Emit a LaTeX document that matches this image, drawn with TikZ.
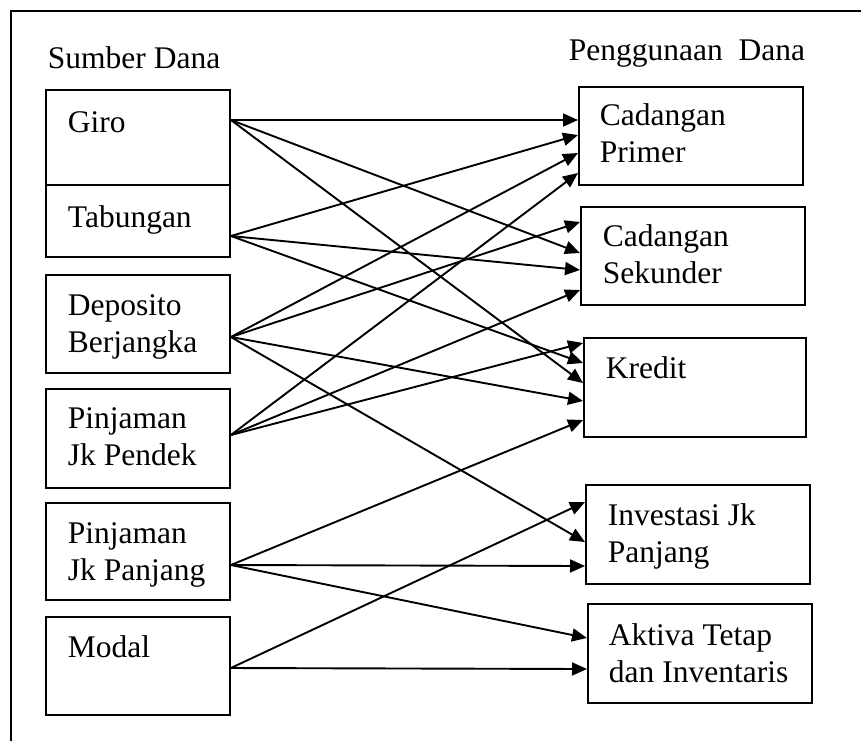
\documentclass[tikz,border=0pt]{standalone}
\usepackage{fontspec}
\setmainfont{Liberation Serif}
\usetikzlibrary{arrows.meta}
\begin{document}
\begin{tikzpicture}[
    x=1pt, y=-1pt,
    >={Triangle[length=15pt, width=13pt]},
    line width=1.9pt,
    every node/.style={font=\fontsize{31.5}{37}\selectfont},
    box/.style={draw, anchor=north west, inner sep=0pt},
    txt/.style={anchor=base west, inner sep=0pt, align=left}
  ]
  \useasboundingbox (0,0) rectangle (861,740);

  % Frame
  \draw (11,760) -- (11,11) -- (880,11);

  % Headings
  \node[txt] (sumber) at (47,68) {Sumber Dana};
  \node[txt] (guna) at (568,60) {Penggunaan\ \ Dana};

  % Sumber boxes
  \node[box, minimum width=184pt, minimum height=95pt] (giro) at (45,89) {};
  \node[box, minimum width=184pt, minimum height=72pt] (tab) at (45,184) {};
  \node[box, minimum width=184pt, minimum height=98pt] (dep) at (45,274) {};
  \node[box, minimum width=184pt, minimum height=99pt] (pendek) at (45,388) {};
  \node[box, minimum width=184pt, minimum height=97pt] (panjang) at (45,502) {};
  \node[box, minimum width=184pt, minimum height=98pt] (modal) at (45,616) {};

  % text sits on the baseline of its last line
  \node[txt] (giro-t) at (67,132) {Giro};
  \node[txt] (tab-t) at (67,227) {Tabungan};
  \node[txt] (dep-t) at (67,352) {Deposito\\Berjangka};
  \node[txt] (pendek-t) at (67,465) {Pinjaman\\Jk Pendek};
  \node[txt] (panjang-t) at (67,580) {Pinjaman\\Jk Panjang};
  \node[txt] (modal-t) at (67,657) {Modal};

  % Penggunaan boxes
  \node[box, minimum width=224pt, minimum height=98pt] (prim) at (578,86) {};
  \node[box, minimum width=224pt, minimum height=98pt] (sek) at (580,206) {};
  \node[box, minimum width=222pt, minimum height=99pt] (kred) at (583,337) {};
  \node[box, minimum width=224pt, minimum height=99pt] (inv) at (585,484) {};
  \node[box, minimum width=224pt, minimum height=99pt] (akt) at (587,603) {};

  \node[txt] (prim-t) at (599,162) {Cadangan\\Primer};
  \node[txt] (sek-t) at (602,283) {Cadangan\\Sekunder};
  \node[txt] (kred-t) at (605,378) {Kredit};
  \node[txt] (inv-t) at (607,562) {Investasi Jk\\Panjang};
  \node[txt] (akt-t) at (608,682) {Aktiva Tetap\\dan Inventaris};

  % Aliran dana
  \foreach \s/\sy/\t/\ty in {
      giro/120/prim/120, giro/120/sek/253, giro/120/kred/383,
      tab/236/prim/135, tab/236/sek/270, tab/236/kred/363,
      dep/337/prim/153, dep/337/sek/222, dep/337/kred/401, dep/337/inv/542,
      pendek/435/prim/173, pendek/435/sek/290, pendek/435/kred/343,
      panjang/565/kred/420, panjang/565/inv/566, panjang/565/akt/638,
      modal/668/inv/502, modal/668/akt/669}
    \draw[->] (\s.east |- 0,\sy) -- (\t.west |- 0,\ty);
\end{tikzpicture}
\end{document}
